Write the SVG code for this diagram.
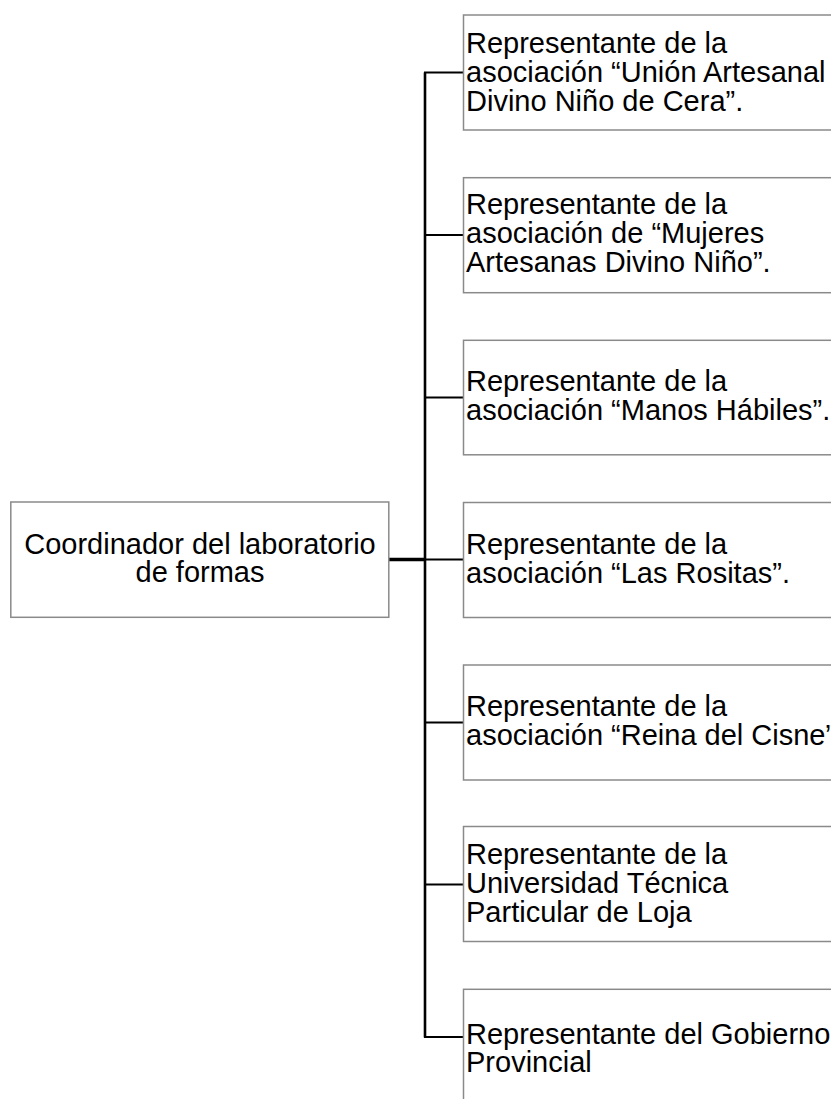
<svg xmlns="http://www.w3.org/2000/svg" width="831" height="1099" viewBox="0 0 831 1099">
<style>
.box{fill:#fff;stroke:#8a8a8a;stroke-width:1.5}
.t{font-family:"Liberation Sans",Arial,sans-serif;font-size:29px;fill:#000}
.c{text-anchor:middle}
.ln{stroke:#000;stroke-width:2;fill:none}
</style>
<rect width="831" height="1099" fill="#fff"/>
<g id="connectors">
<line class="ln" x1="425" y1="72.5" x2="425" y2="1037.5" style="stroke-width:2.6"/>
<line class="ln" x1="389" y1="559.5" x2="425" y2="559.5" style="stroke-width:3.5"/>
<line class="ln" x1="424" y1="72.5" x2="463.5" y2="72.5"/>
<line class="ln" x1="424" y1="235" x2="463.5" y2="235"/>
<line class="ln" x1="424" y1="397.5" x2="463.5" y2="397.5"/>
<line class="ln" x1="424" y1="559.5" x2="463.5" y2="559.5"/>
<line class="ln" x1="424" y1="722.5" x2="463.5" y2="722.5"/>
<line class="ln" x1="424" y1="884.5" x2="463.5" y2="884.5"/>
<line class="ln" x1="424" y1="1037" x2="463.5" y2="1037"/>
</g>
<g id="coordinador">
<rect class="box" x="10.8" y="502" width="378" height="115.3"/>
<text class="t c" x="200" y="554">Coordinador del laboratorio</text>
<text class="t c" x="200" y="582">de formas</text>
</g>
<g id="n1">
<rect class="box" x="463.5" y="15" width="450" height="115"/>
<text class="t" x="466" y="52.5">Representante de la</text>
<text class="t" x="466" y="81.5">asociación “Unión Artesanal</text>
<text class="t" x="466" y="110.5">Divino Niño de Cera”.</text>
</g>
<g id="n2">
<rect class="box" x="463.5" y="177.7" width="450" height="115"/>
<text class="t" x="466" y="214">Representante de la</text>
<text class="t" x="466" y="243">asociación de “Mujeres</text>
<text class="t" x="466" y="272">Artesanas Divino Niño”.</text>
</g>
<g id="n3">
<rect class="box" x="463.5" y="340.3" width="450" height="114.5"/>
<text class="t" x="466" y="391">Representante de la</text>
<text class="t" x="466" y="420">asociación “Manos Hábiles”.</text>
</g>
<g id="n4">
<rect class="box" x="463.5" y="502.5" width="450" height="115"/>
<text class="t" x="466" y="553.5">Representante de la</text>
<text class="t" x="466" y="582.5">asociación “Las Rositas”.</text>
</g>
<g id="n5">
<rect class="box" x="463.5" y="665" width="450" height="115"/>
<text class="t" x="466" y="716">Representante de la</text>
<text class="t" x="466" y="745">asociación “Reina del Cisne”.</text>
</g>
<g id="n6">
<rect class="box" x="463.5" y="826.5" width="450" height="115"/>
<text class="t" x="466" y="863.5">Representante de la</text>
<text class="t" x="466" y="892.5">Universidad Técnica</text>
<text class="t" x="466" y="921.5">Particular de Loja</text>
</g>
<g id="n7">
<rect class="box" x="463.5" y="989.3" width="450" height="130"/>
<text class="t" x="466" y="1044.3">Representante del Gobierno</text>
<text class="t" x="466" y="1072">Provincial</text>
</g>
</svg>
